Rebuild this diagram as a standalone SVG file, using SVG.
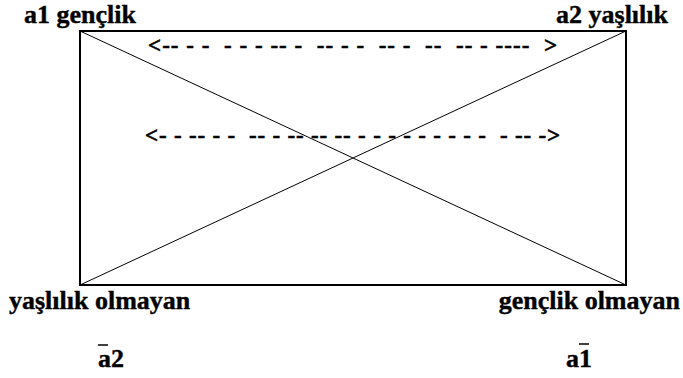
<svg xmlns="http://www.w3.org/2000/svg" width="683" height="378" viewBox="0 0 683 378">
<style>
.lbl{font-family:'Liberation Serif','Times New Roman',serif;font-weight:bold;font-size:26px;fill:#000;stroke:#000;stroke-width:0.4}
.dash{font-family:'Liberation Serif','Times New Roman',serif;font-weight:bold;font-size:23px;fill:#000;stroke:#000;stroke-width:0.5;white-space:pre}
.edge{stroke:#000;stroke-width:1;fill:none}
.bar{stroke:#000;stroke-width:1.5}
</style>
<rect width="683" height="378" fill="#fff"/>
<g id="frame">
<rect x="80" y="31" width="546" height="254" fill="none" stroke="#000" stroke-width="2"/>
</g>
<g id="connectors">
<line class="edge" x1="80" y1="31" x2="626" y2="285"/>
<line class="edge" x1="80" y1="285" x2="626" y2="31"/>
<text class="dash" x="148" y="53" textLength="409" lengthAdjust="spacing" xml:space="preserve">&lt;-- - -  - - - -- -  -- - -  -- -  --  -- - ----  &gt;</text>
<text class="dash" x="145" y="143" textLength="415" lengthAdjust="spacing" xml:space="preserve">&lt;- - -- - -  -- - -- -- -- - - - - - - - - -  - -- -&gt;</text>
</g>
<g id="a1">
<text class="lbl" x="24" y="23">a1 gençlik</text>
</g>
<g id="a2">
<text class="lbl" x="668" y="23" text-anchor="end">a2 yaşlılık</text>
</g>
<g id="not-a2">
<text class="lbl" x="9" y="309">yaşlılık olmayan</text>
<text class="lbl" x="98" y="367">a2</text>
<line class="bar" x1="98" y1="345" x2="108" y2="345"/>
</g>
<g id="not-a1">
<text class="lbl" x="680" y="309" text-anchor="end">gençlik olmayan</text>
<text class="lbl" x="566" y="367">a1</text>
<line class="bar" x1="579" y1="344" x2="589" y2="344"/>
</g>
</svg>
